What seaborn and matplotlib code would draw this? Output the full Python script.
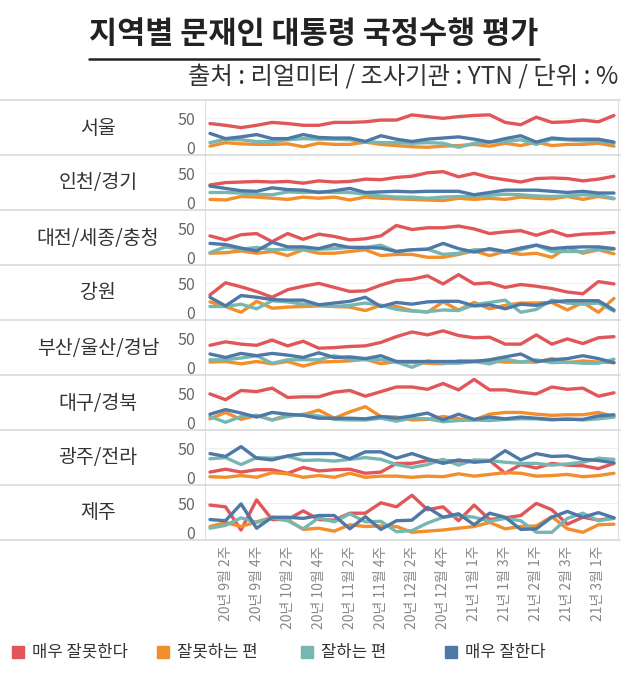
import numpy as np
import pandas as pd
import matplotlib
matplotlib.use("Agg")
import matplotlib.pyplot as plt
import seaborn as sns
from matplotlib.lines import Line2D
from matplotlib.patches import Rectangle

# Data (in %)
weeks = ["20년 9월 1주", "20년 9월 2주", "20년 9월 3주", "20년 9월 4주",
         "20년 10월 1주", "20년 10월 2주", "20년 10월 3주", "20년 10월 4주",
         "20년 11월 1주", "20년 11월 2주", "20년 11월 3주", "20년 11월 4주",
         "20년 12월 1주", "20년 12월 2주", "20년 12월 3주", "20년 12월 4주",
         "20년 12월 5주", "21년 1월 1주", "21년 1월 2주", "21년 1월 3주",
         "21년 1월 4주", "21년 2월 1주", "21년 2월 2주", "21년 2월 3주",
         "21년 2월 4주", "21년 3월 1주", "21년 3월 2주"]

regions = ["서울", "인천/경기", "대전/세종/충청", "강원", "부산/울산/경남",
           "대구/경북", "광주/전라", "제주"]
series = ["매우 잘못한다", "잘못하는 편", "잘하는 편", "매우 잘한다"]
colors = ["#E15759", "#F28E2B", "#76B7B2", "#4E79A7"]

very_bad = {
    "서울": [41, 38, 34, 38, 43, 41, 38, 38, 43, 43, 44, 47, 47, 56, 53, 50, 53, 55, 56, 43, 39, 52, 43, 44, 47, 44, 55],
    "인천/경기": [30, 34, 35, 36, 35, 36, 33, 37, 35, 36, 40, 39, 43, 45, 51, 53, 44, 50, 43, 39, 35, 41, 42, 41, 37, 40, 45],
    "대전/세종/충청": [37, 30, 39, 41, 27, 41, 31, 40, 36, 30, 32, 37, 55, 48, 51, 51, 54, 49, 41, 44, 46, 38, 46, 37, 40, 41, 43],
    "강원": [30, 51, 44, 36, 26, 39, 45, 50, 43, 36, 37, 47, 55, 57, 63, 49, 65, 49, 51, 43, 48, 45, 41, 35, 32, 53, 49],
    "부산/울산/경남": [38, 44, 40, 38, 47, 37, 45, 33, 34, 36, 37, 43, 53, 61, 56, 63, 55, 51, 52, 40, 40, 56, 40, 49, 41, 51, 53],
    "대구/경북": [49, 39, 55, 53, 59, 43, 44, 44, 52, 55, 45, 53, 61, 61, 57, 67, 56, 74, 56, 56, 52, 49, 61, 57, 59, 45, 51],
    "광주/전라": [9, 14, 9, 13, 13, 7, 17, 11, 13, 14, 7, 9, 24, 24, 29, 29, 28, 29, 29, 7, 22, 16, 24, 21, 20, 15, 24],
    "제주": [47, 44, 4, 56, 22, 22, 37, 22, 21, 33, 33, 51, 44, 64, 39, 44, 20, 47, 22, 25, 29, 50, 39, 14, 26, 21, 25],
}
bad = {
    "서울": [2, 8, 6, 5, 5, 6, 1, 7, 5, 5, 9, 5, 3, 1, 0, 2, 3, 5, 2, 7, 3, 9, 3, 5, 5, 7, 2],
    "인천/경기": [5, 4, 10, 9, 7, 5, 9, 7, 9, 4, 9, 7, 6, 5, 4, 3, 7, 5, 7, 5, 9, 7, 6, 10, 5, 10, 6],
    "대전/세종/충청": [7, 8, 11, 7, 10, 3, 13, 7, 7, 10, 13, 3, 5, 5, 0, 0, 5, 11, 3, 10, 5, 7, 0, 17, 7, 13, 6],
    "강원": [18, 10, 0, 19, 7, 9, 10, 11, 10, 9, 3, 12, 10, 3, 0, 18, 4, 17, 6, 12, 16, 16, 17, 4, 17, 0, 24],
    "부산/울산/경남": [9, 10, 6, 10, 6, 10, 2, 9, 10, 11, 14, 6, 10, 8, 7, 6, 11, 11, 11, 9, 9, 9, 15, 8, 11, 9, 8],
    "대구/경북": [6, 17, 5, 12, 4, 13, 13, 21, 7, 18, 27, 10, 9, 4, 5, 10, 6, 4, 14, 17, 17, 14, 12, 13, 13, 17, 10],
    "광주/전라": [1, 0, 3, 0, 8, 6, 0, 3, 0, 7, 0, 2, 2, 0, 2, 1, 6, 2, 5, 8, 7, 2, 3, 5, 1, 3, 7],
    "제주": [10, 17, 10, 18, 26, 22, 5, 7, 2, 13, 10, 11, 10, 0, 2, 4, 7, 10, 17, 6, 10, 11, 27, 6, 0, 13, 14],
}
good = {
    "서울": [8, 14, 13, 10, 10, 13, 15, 14, 14, 13, 10, 8, 8, 7, 8, 7, 0, 7, 9, 10, 13, 5, 14, 13, 11, 11, 7],
    "인천/경기": [17, 17, 16, 14, 13, 18, 17, 18, 17, 17, 14, 11, 9, 9, 7, 9, 10, 10, 12, 14, 13, 11, 10, 11, 13, 12, 7],
    "대전/세종/충청": [8, 18, 14, 17, 13, 14, 14, 14, 15, 17, 17, 21, 10, 13, 14, 5, 7, 13, 13, 9, 13, 21, 10, 10, 10, 14, 14],
    "강원": [10, 10, 14, 6, 20, 18, 14, 13, 10, 12, 16, 12, 5, 2, 1, 4, 3, 13, 17, 21, 0, 5, 21, 16, 14, 16, 2],
    "부산/울산/경남": [13, 13, 16, 20, 7, 13, 13, 13, 20, 14, 13, 13, 9, 0, 11, 7, 7, 10, 6, 14, 9, 13, 8, 9, 7, 7, 14],
    "대구/경북": [10, 0, 10, 12, 4, 10, 14, 11, 5, 4, 4, 7, 2, 7, 6, 1, 3, 4, 3, 5, 6, 6, 4, 6, 4, 6, 9],
    "광주/전라": [32, 34, 22, 34, 33, 36, 29, 30, 28, 31, 34, 31, 22, 17, 22, 31, 21, 30, 29, 26, 24, 24, 21, 23, 26, 33, 31],
    "제주": [7, 12, 25, 17, 25, 20, 6, 25, 18, 32, 18, 19, 1, 3, 16, 26, 29, 26, 19, 24, 20, 0, 0, 24, 33, 20, 24],
}
very_good = {
    "서울": [24, 15, 18, 22, 15, 15, 22, 17, 16, 16, 10, 20, 14, 10, 14, 16, 18, 14, 9, 15, 20, 9, 16, 14, 14, 14, 9],
    "인천/경기": [28, 24, 20, 19, 25, 22, 21, 17, 20, 24, 17, 18, 19, 18, 19, 19, 19, 13, 17, 21, 21, 21, 19, 17, 19, 16, 16],
    "대전/세종/충청": [24, 22, 16, 11, 26, 18, 18, 15, 22, 17, 17, 16, 10, 13, 14, 24, 15, 9, 15, 10, 16, 21, 15, 17, 18, 18, 15],
    "강원": [26, 11, 29, 26, 22, 21, 21, 13, 16, 19, 26, 10, 17, 14, 18, 19, 19, 11, 13, 6, 14, 12, 18, 20, 20, 20, 4],
    "부산/울산/경남": [23, 17, 24, 20, 24, 21, 17, 25, 17, 18, 15, 20, 10, 10, 10, 10, 10, 10, 13, 18, 23, 10, 13, 15, 20, 15, 8],
    "대구/경북": [14, 22, 16, 9, 17, 14, 12, 7, 7, 7, 6, 10, 7, 11, 16, 4, 14, 5, 9, 6, 9, 7, 5, 5, 5, 11, 13],
    "광주/전라": [41, 36, 53, 33, 30, 37, 41, 41, 41, 32, 44, 44, 33, 41, 32, 24, 30, 26, 28, 46, 30, 41, 36, 37, 31, 29, 25],
    "제주": [22, 20, 49, 7, 26, 26, 24, 29, 29, 6, 27, 5, 20, 21, 43, 26, 32, 13, 33, 26, 5, 6, 26, 36, 26, 34, 25],
}

# long-form table
rows = []
for r in regions:
    for s, d in zip(series, [very_bad, bad, good, very_good]):
        for i, v in enumerate(d[r]):
            rows.append({"region": r, "series": s, "week": i, "value": v})
df = pd.DataFrame(rows)

sns.set_theme(style="white")
plt.rcParams["font.family"] = ["Noto Sans CJK KR", "DejaVu Sans"]

W, H = 630, 673
fig = plt.figure(figsize=(W / 100, H / 100), dpi=100)


def fx(px):
    return px / W


def fy(py):
    return 1 - py / H


top0, ph = 100, 55
left, right = 205, 618
grid_c = "#d9d9d9"

for k, r in enumerate(regions):
    t = top0 + ph * k
    ax = fig.add_axes([fx(left), fy(t + ph), fx(right) - fx(left), ph / H])
    sub = df[df.region == r]
    sns.lineplot(data=sub, x="week", y="value", hue="series", hue_order=series,
                 palette=colors, linewidth=2.4, legend=False, ax=ax)
    ax.set_xlim(-0.32, 26.26)
    ax.set_ylim(-13.3, 81.7)
    ax.set_yticks([0, 50])
    ax.set_yticklabels(["0", "50"])
    ax.axhline(50, color="#f0f0f0", lw=0.8, zorder=0)
    ax.tick_params(axis="y", length=0, pad=7, labelsize=11.5, labelcolor="#666666")
    ax.set_xlabel("")
    ax.set_ylabel("")
    for side in ["top", "bottom"]:
        ax.spines[side].set_visible(False)
    for side in ["left", "right"]:
        ax.spines[side].set_color("#e0e0e0")
        ax.spines[side].set_linewidth(0.8)
    if k == len(regions) - 1:
        ax.set_xticks(range(1, len(weeks), 2))
        ax.set_xticklabels(weeks[1::2], rotation=90, fontsize=10, color="#888888")
        ax.tick_params(axis="x", length=0, pad=4)
    else:
        ax.set_xticks([])
    fig.text(fx(98), fy(t + 28), r, ha="center", va="center",
             fontsize=14, color="#333333")

# horizontal separators across the full width
for k in range(len(regions) + 1):
    y = fy(top0 + ph * k)
    fig.add_artist(Line2D([0, fx(right + 2)], [y, y], color=grid_c, lw=1.2))

# title with underline
title = fig.text(fx(314), fy(34), "지역별 문재인 대통령 국정수행 평가", ha="center",
                 va="center", fontsize=22, fontweight="bold", color="#222222")
fig.canvas.draw()
bb = title.get_window_extent(fig.canvas.get_renderer()).transformed(fig.transFigure.inverted())
fig.add_artist(Line2D([bb.x0, bb.x1], [fy(59), fy(59)], color="#222222", lw=1.8))

fig.text(fx(618), fy(77), "출처 : 리얼미터 / 조사기관 : YTN / 단위 : %", ha="right",
         va="center", fontsize=17.5, color="#333333")

# legend
leg_x = [12, 157, 301, 445]
for x, s, c in zip(leg_x, series, colors):
    fig.add_artist(Rectangle((fx(x), fy(658)), 12 / W, 12 / H, color=c,
                             transform=fig.transFigure))
    fig.text(fx(x + 20), fy(652), s, ha="left", va="center", fontsize=12,
             color="#333333")

fig.savefig("out.png", dpi=100)
